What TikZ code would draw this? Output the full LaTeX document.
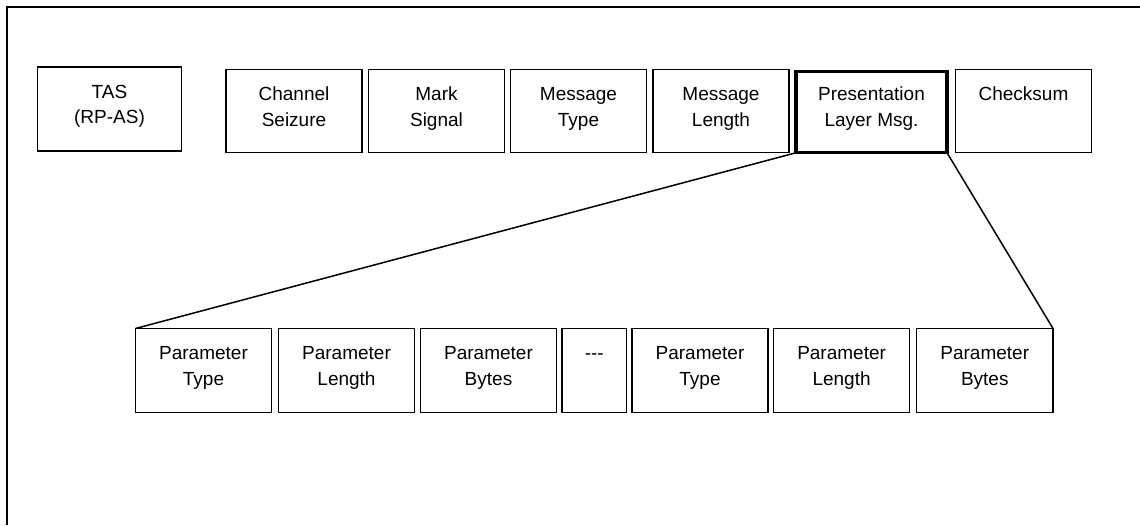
\documentclass[tikz,border=0pt]{standalone}
\usepackage{fontspec}
\setmainfont{Liberation Sans}
\begin{document}
\begin{tikzpicture}[x=1pt,y=-1pt,
  field/.style={draw=black, line width=1.6pt, rectangle, inner sep=0pt, outer sep=0pt, minimum height=83pt},
  focus/.style={field, line width=3.4pt},
  txt/.style={anchor=base, inner sep=0pt, font=\fontsize{19}{25}\selectfont, text=black},
  link/.style={line width=1.5pt}]
\useasboundingbox (0,0) rectangle (1140,525);

% frame
\draw[line width=2.2pt] (7,525) coordinate (fbl) -- (7,7) coordinate (ftl) -- (1140,7) coordinate (ftr);

% helper: two lines of text below a box's top edge
\newcommand\fieldtext[3]{%
  \node[txt] (#1-a) at ([yshift=-31pt]#1.north) {#2};
  \node[txt] (#1-b) at ([yshift=-56.5pt]#1.north) {#3};}

% message fields
\node[field, minimum width=144pt, minimum height=84pt] (tas) at (109.5,109) {};
\fieldtext{tas}{TAS}{(RP-AS)}
\node[field, minimum width=136pt] (chan) at (294,111) {};
\fieldtext{chan}{Channel}{Seizure}
\node[field, minimum width=136pt] (mark) at (436.5,111) {};
\fieldtext{mark}{Mark}{Signal}
\node[field, minimum width=136pt] (mtype) at (578.5,111) {};
\fieldtext{mtype}{Message}{Type}
\node[field, minimum width=136pt] (mlen) at (721,111) {};
\fieldtext{mlen}{Message}{Length}
\node[focus, minimum width=151pt, minimum height=81.5pt] (pres) at (871.5,112) {};
\node[txt] (pres-a) at ([yshift=-29.5pt]pres.north) {Presentation};
\node[txt] (pres-b) at ([yshift=-55pt]pres.north) {Layer Msg.};
\node[field, minimum width=136pt] (csum) at (1023.5,111) {};
\node[txt] (csum-a) at ([yshift=-31pt]csum.north) {Checksum};

% parameter fields
\node[field, minimum width=136pt, minimum height=84pt] (pt1) at (203.5,370.5) {};
\fieldtext{pt1}{Parameter}{Type}
\node[field, minimum width=136pt, minimum height=84pt] (pl1) at (346.5,370.5) {};
\fieldtext{pl1}{Parameter}{Length}
\node[field, minimum width=136pt, minimum height=84pt] (pb1) at (488.5,370.5) {};
\fieldtext{pb1}{Parameter}{Bytes}
\node[field, minimum width=64.5pt, minimum height=84pt] (gap) at (594.25,370.5) {};
\node[txt] (gap-a) at ([yshift=-31pt]gap.north) {\mbox{-}\mbox{-}\mbox{-}};
\node[field, minimum width=136pt, minimum height=84pt] (pt2) at (700,370.5) {};
\fieldtext{pt2}{Parameter}{Type}
\node[field, minimum width=136pt, minimum height=84pt] (pl2) at (841.6,370.5) {};
\fieldtext{pl2}{Parameter}{Length}
\node[field, minimum width=136.5pt, minimum height=84pt] (pb2) at (984.75,370.5) {};
\fieldtext{pb2}{Parameter}{Bytes}

% expansion lines
\draw[link] (pres.south west) -- (pt1.north west);
\draw[link] (pres.south east) -- (pb2.north east);
\end{tikzpicture}
\end{document}
